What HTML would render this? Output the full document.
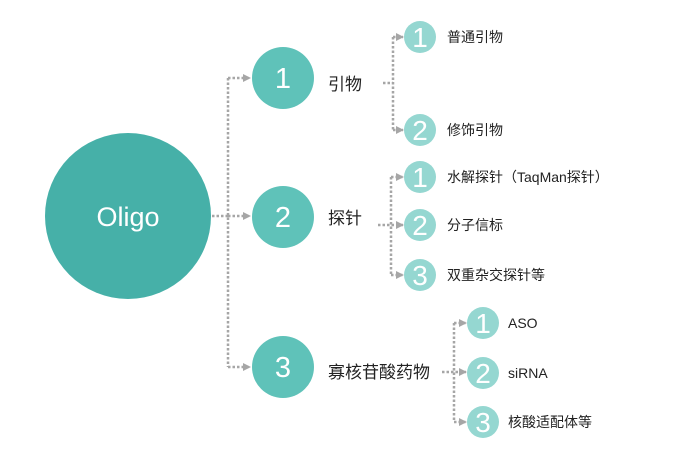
<!DOCTYPE html>
<html><head><meta charset="utf-8"><style>
html,body{margin:0;padding:0;background:#fff;}
text{font-family:"Liberation Sans","Noto Sans CJK SC",sans-serif;}
</style></head><body>
<svg width="681" height="462" viewBox="0 0 681 462" xmlns="http://www.w3.org/2000/svg">
<defs><marker id="a" markerWidth="8" markerHeight="8" refX="7" refY="4" orient="auto" markerUnits="userSpaceOnUse"><path d="M0,0 L8,4 L0,8 z" fill="#a6a6a6"/></marker></defs>
<g stroke="#a6a6a6" stroke-width="2.5" stroke-dasharray="2.5,2" fill="none">
<path d="M212,216 H228"/>
<path d="M228,78 V367"/>
<path d="M228,78 H250" marker-end="url(#a)"/>
<path d="M228,216 H250" marker-end="url(#a)"/>
<path d="M228,367 H250" marker-end="url(#a)"/>
<path d="M383,83 H393"/>
<path d="M393,37 V130"/>
<path d="M393,37 H403" marker-end="url(#a)"/>
<path d="M393,130 H403" marker-end="url(#a)"/>
<path d="M378,225 H403" marker-end="url(#a)"/>
<path d="M391,177 V275"/>
<path d="M391,177 H403" marker-end="url(#a)"/>
<path d="M391,275 H403" marker-end="url(#a)"/>
<path d="M442,372 H466" marker-end="url(#a)"/>
<path d="M454,323 V422"/>
<path d="M454,323 H466" marker-end="url(#a)"/>
<path d="M454,422 H466" marker-end="url(#a)"/>
</g>
<circle cx="128" cy="216" r="83" fill="#46b0a8"/>
<text x="128" y="226" font-size="27" fill="#fff" text-anchor="middle">Oligo</text>
<g fill="#5fc2b9"><circle cx="283" cy="78" r="31"/><circle cx="283" cy="217" r="31"/><circle cx="283" cy="367" r="31"/></g>
<g font-size="29" fill="#fff" text-anchor="middle"><text x="283" y="88">1</text><text x="283" y="227">2</text><text x="283" y="377">3</text></g>
<g font-size="17" fill="#222"><text x="328" y="90">引物</text><text x="328" y="224">探针</text><text x="328" y="378">寡核苷酸药物</text></g>
<g fill="#95d7d1"><circle cx="420" cy="37" r="16"/><circle cx="420" cy="130" r="16"/><circle cx="420" cy="177" r="16"/><circle cx="420" cy="225" r="16"/><circle cx="420" cy="275" r="16"/><circle cx="483" cy="323" r="16"/><circle cx="483" cy="373" r="16"/><circle cx="483" cy="422" r="16"/></g>
<g font-size="28" fill="#fff" text-anchor="middle"><text x="420" y="47">1</text><text x="420" y="140">2</text><text x="420" y="187">1</text><text x="420" y="235">2</text><text x="420" y="285">3</text><text x="483" y="333">1</text><text x="483" y="383">2</text><text x="483" y="432">3</text></g>
<g font-size="14" fill="#222"><text x="447" y="42">普通引物</text><text x="447" y="135">修饰引物</text><text x="447" y="182">水解探针（TaqMan探针）</text><text x="447" y="230">分子信标</text><text x="447" y="280">双重杂交探针等</text><text x="508" y="328">ASO</text><text x="508" y="378">siRNA</text><text x="508" y="427">核酸适配体等</text></g>
</svg>
</body></html>
